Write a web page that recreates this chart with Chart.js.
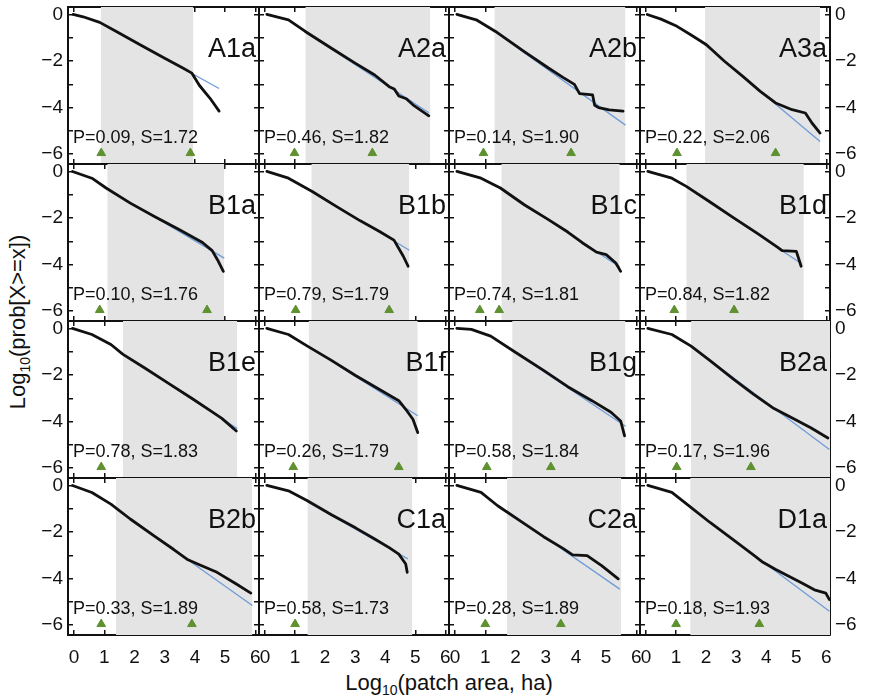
<!DOCTYPE html>
<html>
<head>
<meta charset="utf-8">
<script src="https://cdn.jsdelivr.net/npm/chart.js@4/dist/chart.umd.min.js"></script>
<style>
  html, body { margin: 0; padding: 0; background: #fff; }
  #wrap { position: relative; width: 886px; height: 699px; overflow: hidden;
          font-family: "Liberation Sans", Arial, sans-serif; color: #111; }
  #wrap canvas { position: absolute; }
  .title { position: absolute; font-size: 22px; white-space: nowrap; }
  .title sub { font-size: 14px; }
  #ytitle { left: 19px; top: 322px; transform: translate(-50%, -50%) rotate(-90deg); }
  #xtitle { left: 449px; top: 684px; transform: translate(-50%, -50%); }
</style>
</head>
<body>
<div id="wrap">
  <div class="title" id="ytitle">Log<sub>10</sub>(prob[X&gt;=x])</div>
  <div class="title" id="xtitle">Log<sub>10</sub>(patch area, ha)</div>
</div>
<script>
// sites, one per panel, row by row
const panelNames = ["A1a", "A2a", "A2b", "A3a",
                    "B1a", "B1b", "B1c", "B1d",
                    "B1e", "B1f", "B1g", "B2a",
                    "B2b", "C1a", "C2a", "D1a"];
const pValues = [0.09, 0.46, 0.14, 0.22, 0.10, 0.79, 0.74, 0.84,
                 0.78, 0.26, 0.58, 0.17, 0.33, 0.58, 0.28, 0.18];
const sValues = [1.72, 1.82, 1.90, 2.06, 1.76, 1.79, 1.81, 1.82,
                 1.83, 1.79, 1.84, 1.96, 1.89, 1.73, 1.89, 1.93];

// range of log10 area used for the power-law fit (shaded)
const fitRanges = [[0.88, 3.95], [1.34, 5.5], [1.30, 5.64], [1.96, 5.79],
                   [1.10, 4.97], [1.54, 4.80], [1.53, 5.45], [1.34, 5.25],
                   [1.62, 5.40], [1.45, 5.08], [1.89, 5.64], [1.50, 6.12],
                   [1.38, 5.90], [1.41, 4.90], [1.72, 5.50], [1.47, 6.12]];

// threshold markers
const thresholds = [[0.90, 3.85], [0.98, 3.57], [0.94, 3.84], [1.03, 4.31],
                    [0.85, 4.40], [1.02, 4.13], [0.82, 1.46], [0.94, 2.93],
                    [0.90], [0.94, 4.45], [1.05, 3.17], [1.02, 3.49],
                    [0.90, 3.90], [1.00], [1.00, 3.50], [1.00, 3.77]];

// empirical ccdf, log10(area) vs log10(prob[X>=x])
const ccdfX = [
  [-0.03, 0.3, 0.85, 1.4, 2.2, 3.0, 3.6, 3.9, 4.15, 4.5, 4.8],
  [0.06, 0.78, 1.34, 2.21, 3.01, 3.65, 4.13, 4.3, 4.45, 4.7, 4.92, 5.45],
  [0.06, 0.7, 1.34, 2.29, 3.09, 3.57, 3.95, 4.12, 4.55, 4.62, 4.75, 5.1, 5.56],
  [0.04, 0.5, 1.03, 1.5, 2.01, 2.6, 3.22, 3.8, 4.31, 4.86, 5.3, 5.52, 5.79],
  [-0.05, 0.59, 1.06, 1.86, 2.66, 3.46, 4.25, 4.57, 4.75, 4.94],
  [0.06, 0.78, 1.57, 2.37, 3.17, 3.81, 4.29, 4.6, 4.76],
  [0.06, 0.86, 1.5, 2.29, 3.09, 3.73, 4.21, 4.68, 5.0, 5.32, 5.48],
  [0.06, 0.86, 1.34, 2.13, 2.93, 3.73, 4.37, 4.53, 5.0, 5.16],
  [-0.05, 0.59, 1.22, 1.62, 2.34, 3.14, 3.93, 4.57, 4.89, 5.37],
  [0.06, 0.78, 1.41, 2.21, 3.01, 3.81, 4.45, 4.68, 4.92, 5.08],
  [0.06, 0.54, 1.18, 1.97, 2.93, 3.73, 4.53, 5.16, 5.48, 5.61],
  [0.06, 0.86, 1.5, 2.13, 2.93, 3.57, 4.21, 4.85, 5.48, 6.05],
  [-0.05, 0.59, 1.22, 1.86, 2.66, 3.3, 3.77, 4.09, 4.73, 5.37, 5.85],
  [0.06, 0.78, 1.41, 2.21, 3.01, 3.65, 4.13, 4.45, 4.68, 4.73],
  [0.06, 0.86, 1.41, 2.13, 2.93, 3.57, 3.89, 4.37, 4.85, 5.4],
  [0.06, 0.86, 1.42, 2.13, 2.93, 3.57, 3.89, 4.3, 4.75, 5.2, 5.6, 5.98, 6.1]
];
const ccdfY = [
  [0, -0.1, -0.34, -0.73, -1.31, -1.88, -2.3, -2.52, -3.05, -3.6, -4.15],
  [0, -0.23, -0.73, -1.45, -2.1, -2.6, -3.1, -3.2, -3.5, -3.62, -3.88, -4.35],
  [0, -0.23, -0.73, -1.6, -2.3, -2.7, -3.0, -3.4, -3.45, -3.9, -4.0, -4.1, -4.15],
  [0, -0.2, -0.51, -0.88, -1.3, -2.0, -2.66, -3.3, -3.8, -4.09, -4.23, -4.66, -5.09],
  [0, -0.29, -0.71, -1.36, -1.93, -2.48, -3.05, -3.4, -3.8, -4.29],
  [0, -0.29, -0.86, -1.5, -2.12, -2.58, -2.95, -3.64, -4.07],
  [0, -0.29, -0.71, -1.43, -2.07, -2.6, -3.06, -3.46, -3.57, -3.93, -4.29],
  [0, -0.29, -0.64, -1.31, -2.0, -2.68, -3.25, -3.4, -3.43, -4.07],
  [0, -0.26, -0.69, -1.11, -1.7, -2.37, -3.03, -3.58, -3.86, -4.4],
  [0, -0.26, -0.76, -1.37, -2.02, -2.62, -3.1, -3.47, -3.9, -4.47],
  [0, -0.04, -0.33, -1.0, -1.8, -2.5, -3.1, -3.6, -3.97, -4.61],
  [0, -0.26, -0.76, -1.38, -2.2, -2.82, -3.4, -3.83, -4.26, -4.7],
  [0, -0.3, -0.8, -1.44, -2.18, -2.75, -3.19, -3.37, -3.73, -4.23, -4.62],
  [0, -0.23, -0.66, -1.26, -1.82, -2.3, -2.67, -2.95, -3.37, -3.73],
  [0, -0.3, -0.87, -1.5, -2.2, -2.7, -2.98, -3.01, -3.44, -4.01],
  [0, -0.3, -0.87, -1.59, -2.36, -2.98, -3.3, -3.6, -3.9, -4.2, -4.48, -4.62, -4.9]
];

// fitted power law, end points [x0, y0, x1, y1]
const fitLines = [
  [0.88, -0.36, 4.8, -3.18], [1.34, -0.75, 5.45, -4.22], [1.3, -0.72, 5.64, -4.75], [1.96, -1.3, 5.79, -5.45],
  [1.1, -0.75, 4.97, -3.72], [1.54, -0.83, 4.8, -3.38], [1.53, -0.75, 5.45, -4.1], [1.34, -0.65, 5.16, -3.95],
  [1.62, -1.1, 5.4, -4.3], [1.45, -0.78, 5.08, -3.75], [1.89, -0.95, 5.64, -4.2], [1.5, -0.76, 6.1, -5.2],
  [1.38, -1.0, 5.9, -5.15], [1.41, -0.7, 4.75, -3.15], [1.72, -1.1, 5.45, -4.45], [1.47, -0.95, 6.1, -5.4]
];

const X_MIN = -0.2, X_MAX = 6.12;
const Y_MIN = -6.42, Y_MAX = 0.32;
const MARK_Y = -5.95;

const FONT = '"Liberation Sans", Arial, sans-serif';
const M = 44;              // canvas margin around each panel for ticks/labels
const GRID_LEFT = 68, GRID_TOP = 7, CELL_W = 190.5, CELL_H = 157;

const fmt = v => (v < 0 ? '\u2212' + (-v) : String(Math.abs(v)));

// panel name (top right) and fit statistics (bottom left)
const panelText = {
  id: 'panelText',
  afterDatasetsDraw(chart, args, opts) {
    const { ctx, chartArea: a } = chart;
    ctx.save();
    ctx.fillStyle = '#111';
    ctx.textBaseline = 'alphabetic';
    ctx.font = '27px ' + FONT;
    ctx.textAlign = 'right';
    ctx.fillText(opts.name, a.right - 3, a.top + 50);
    ctx.font = '18px ' + FONT;
    ctx.textAlign = 'left';
    ctx.fillText(opts.stats, a.left + 5, a.top + 136);
    ctx.restore();
  }
};

function axis(pos, min, max, isY, labels) {
  return {
    type: 'linear', position: pos, min: min, max: max, axis: isY ? 'y' : 'x', z: 1,
    afterFit: s => { if (isY) s.width = M; else s.height = M; },
    border: { display: true, color: '#111', width: 2 },
    grid: { drawOnChartArea: false, drawTicks: true, tickLength: -5, color: '#111', lineWidth: 1.5 },
    ticks: {
      display: labels, stepSize: 1, includeBounds: false, autoSkip: false, maxRotation: 0,
      padding: isY ? 10 : 16, color: '#111', font: { size: 19, family: FONT },
      callback: v => (isY && v % 2 !== 0) ? '' : fmt(v)
    }
  };
}

const wrap = document.getElementById('wrap');

panelNames.forEach((name, i) => {
  const r = Math.floor(i / 4), c = i % 4;
  const left = Math.round(GRID_LEFT + c * CELL_W);
  const w = Math.round(GRID_LEFT + (c + 1) * CELL_W) - left;
  const top = GRID_TOP + r * CELL_H;
  const h = CELL_H;

  const canvas = document.createElement('canvas');
  canvas.width = w + 2 * M;
  canvas.height = h + 2 * M;
  canvas.style.left = (left - M) + 'px';
  canvas.style.top = (top - M) + 'px';
  canvas.style.width = canvas.width + 'px';
  canvas.style.height = canvas.height + 'px';
  wrap.appendChild(canvas);

  const curve = ccdfX[i].map((x, k) => ({ x: x, y: ccdfY[i][k] }));
  const fl = fitLines[i];
  const band = fitRanges[i].map(x => ({ x: x, y: Y_MAX }));
  const marks = thresholds[i].map(x => ({ x: x, y: MARK_Y }));

  new Chart(canvas, {
    type: 'scatter',
    data: {
      datasets: [
        { data: marks, pointStyle: 'triangle', pointRadius: 5, backgroundColor: '#5f9130',
          borderColor: '#5f9130', borderWidth: 1, showLine: false, order: 0 },
        { data: curve, showLine: true, borderColor: '#111', borderWidth: 2.8, pointRadius: 0,
          borderJoinStyle: 'round', borderCapStyle: 'round', clip: 2, order: 1 },
        { data: [{ x: fl[0], y: fl[1] }, { x: fl[2], y: fl[3] }], showLine: true,
          borderColor: '#6f9bd8', borderWidth: 1.3, pointRadius: 0, order: 2 },
        { data: band, showLine: true, borderWidth: 0, pointRadius: 0, fill: 'start',
          backgroundColor: '#e4e4e4', order: 3 }
      ]
    },
    options: {
      responsive: false,
      animation: false,
      events: [],
      layout: { padding: 0 },
      plugins: {
        legend: { display: false },
        tooltip: { enabled: false },
        panelText: { name: name, stats: 'P=' + pValues[i].toFixed(2) + ', S=' + sValues[i].toFixed(2) }
      },
      scales: {
        x: axis('bottom', X_MIN, X_MAX, false, r === 3),
        x2: axis('top', X_MIN, X_MAX, false, false),
        y: axis('left', Y_MIN, Y_MAX, true, c === 0),
        y2: axis('right', Y_MIN, Y_MAX, true, c === 3)
      }
    },
    plugins: [panelText]
  });
});
</script>
</body>
</html>
